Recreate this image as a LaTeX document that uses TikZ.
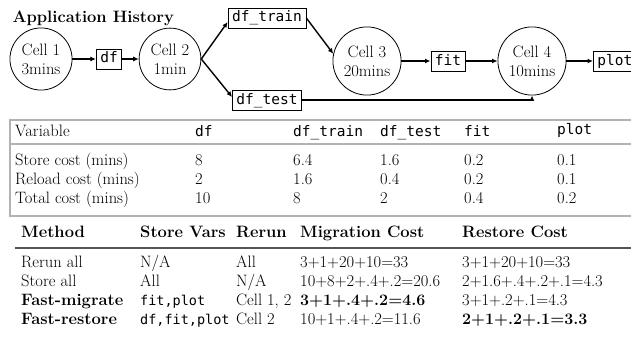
\documentclass[tikz,border=0pt]{standalone}
\usepackage{fontspec}
\setmonofont{DejaVu Sans Mono}
\usetikzlibrary{arrows.meta}
\definecolor{tblgray}{RGB}{178,178,178}
\definecolor{rulegray}{RGB}{85,85,85}
\newcommand{\mytt}[1]{{\fontsize{14.5}{17}\selectfont\ttfamily #1}}
\newcommand{\mysmtt}[1]{{\fontsize{13.5}{17}\selectfont\ttfamily #1}}
\begin{document}
\begin{tikzpicture}[x=1pt,y=-1pt,
  every node/.style={font=\fontsize{16.5}{19}\selectfont},
  cell/.style={draw, circle, line width=0.8pt, inner sep=4.5pt, align=center},
  var/.style={draw, line width=0.8pt, inner xsep=4pt, inner ysep=3pt, text height=11pt, text depth=3pt, font=\fontsize{14.5}{17}\selectfont\ttfamily},
  arr/.style={-{Latex[length=5.5pt,width=5pt]}, line width=1.4pt},
  tc/.style={anchor=west, inner sep=0pt, text height=11.5pt, text depth=3.5pt},
  tb/.style={tc, font=\fontsize{16.5}{19}\selectfont\bfseries},
  cost/.style={tc, font=\fontsize{16.5}{19}\selectfont},
  costb/.style={tc, font=\fontsize{16}{19}\selectfont\bfseries}]
\useasboundingbox (0,0) rectangle (631,337);
% ---------- diagram ----------
\node[anchor=base west, font=\fontsize{16.5}{19}\selectfont\bfseries] (title) at (9,23) {Application History};
\node[cell] (c1) at (41,59) {Cell 1\\3mins};
\node[var] (df) at (109,59) {df};
\node[cell] (c2) at (170,59) {Cell 2\\1min};
\node[var] (dftrain) at (267,18) {df\_train};
\node[var] (dftest) at (267,100) {df\_test};
\node[cell] (c3) at (367,61) {Cell 3\\20mins};
\node[var] (fit) at (448,61) {fit};
\node[cell] (c4) at (532,61) {Cell 4\\10mins};
\node[var, anchor=west] (plot) at (593,61) {plot};
\draw[arr] (c1) -- (df);
\draw[arr] (df) -- (c2);
\draw[arr] (c2.east) -- ([yshift=-4pt]dftrain.west);
\draw[arr] (c2.east) -- ([yshift=3pt]dftest.west);
\draw[arr] (dftrain.east) -- (c3.168);
\draw[arr] (c3) -- (fit);
\draw[arr] (fit) -- (c4);
\draw[arr] (c4) -- (plot);
\draw[arr] (dftest.east) -| (c4.south);
% ---------- table 1 ----------
\draw[tblgray, line width=1.3pt] (640,120) -- (10,120) -- (10,216) -- (640,216);
\draw[tblgray, line width=1.3pt] (10,144) -- (640,144);
\node[tc] (t1h0) at (15,132) {Variable};
\node[tc] (t1h1) at (195,132) {\mytt{df}};
\node[tc] (t1h2) at (293,132) {\mytt{df\_train}};
\node[tc] (t1h3) at (380,132) {\mytt{df\_test}};
\node[tc] (t1h4) at (464,132) {\mytt{fit}};
\node[tc] (t1h5) at (557,130) {\mytt{plot}};
\node[tc] (t1a0) at (15,161) {Store cost (mins)};
\node[tc] (t1a1) at (195,161) {8};
\node[tc] (t1a2) at (293,161) {6.4};
\node[tc] (t1a3) at (380,161) {1.6};
\node[tc] (t1a4) at (464,161) {0.2};
\node[tc] (t1a5) at (557,161) {0.1};
\node[tc] (t1b0) at (15,180) {Reload cost (mins)};
\node[tc] (t1b1) at (195,180) {2};
\node[tc] (t1b2) at (293,180) {1.6};
\node[tc] (t1b3) at (380,180) {0.4};
\node[tc] (t1b4) at (464,180) {0.2};
\node[tc] (t1b5) at (557,180) {0.1};
\node[tc] (t1c0) at (15,199) {Total cost (mins)};
\node[tc] (t1c1) at (195,199) {10};
\node[tc] (t1c2) at (293,199) {8};
\node[tc] (t1c3) at (380,199) {2};
\node[tc] (t1c4) at (464,199) {0.4};
\node[tc] (t1c5) at (557,199) {0.2};
% ---------- table 2 ----------
\draw[rulegray, line width=1.5pt] (15,248) -- (640,248);
\node[tb] (t2h0) at (21,233) {Method};
\node[tb] (t2h1) at (140,233) {Store Vars};
\node[tb] (t2h2) at (236,233) {Rerun};
\node[tb] (t2h3) at (300,233) {Migration Cost};
\node[tb] (t2h4) at (462,233) {Restore Cost};
\node[tc] (t2a0) at (21,263) {Rerun all};
\node[tc] (t2a1) at (140,263) {N/A};
\node[tc] (t2a2) at (236,263) {All};
\node[cost] (t2a3) at (300,263) {3+1+20+10=33};
\node[cost] (t2a4) at (462,263) {3+1+20+10=33};
\node[tc] (t2b0) at (21,282) {Store all};
\node[tc] (t2b1) at (140,282) {All};
\node[tc] (t2b2) at (236,282) {N/A};
\node[cost] (t2b3) at (300,282) {10+8+2+.4+.2=20.6};
\node[cost] (t2b4) at (462,282) {2+1.6+.4+.2+.1=4.3};
\node[tb] (t2c0) at (21,301) {Fast-migrate};
\node[tc] (t2c1) at (140,301) {\mysmtt{fit,plot}};
\node[tc] (t2c2) at (236,301) {Cell 1, 2};
\node[costb] (t2c3) at (300,301) {3+1+.4+.2=4.6};
\node[cost] (t2c4) at (462,301) {3+1+.2+.1=4.3};
\node[tb] (t2d0) at (21,320) {Fast-restore};
\node[tc] (t2d1) at (140,320) {\mysmtt{df,fit,plot}};
\node[tc] (t2d2) at (236,320) {Cell 2};
\node[cost] (t2d3) at (300,320) {10+1+.4+.2=11.6};
\node[costb] (t2d4) at (462,320) {2+1+.2+.1=3.3};
\end{tikzpicture}
\end{document}
